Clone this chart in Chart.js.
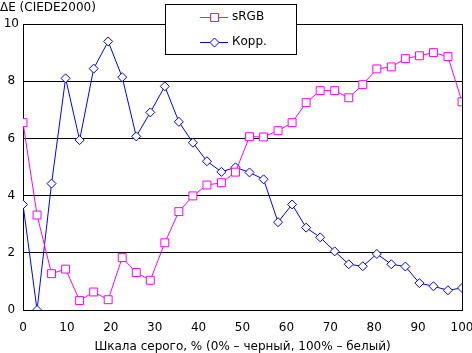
<!DOCTYPE html>
<html>
<head>
<meta charset="utf-8">
<script src="https://cdn.jsdelivr.net/npm/chart.js@4.4.0/dist/chart.umd.min.js"></script>
<style>
  html, body { margin: 0; padding: 0; background: #fff; }
  #wrap { width: 472px; height: 353px; }
</style>
</head>
<body>
<div id="wrap"><canvas id="chart" width="472" height="353"></canvas></div>
<script>
// grey level, % (0% = black, 100% = white)
const greyLevels = [0, 3.2, 6.5, 9.7, 12.9, 16.1, 19.4, 22.6, 25.8, 29, 32.3, 35.5, 38.7, 41.9, 45.2, 48.4,
    51.6, 54.8, 58.1, 61.3, 64.5, 67.7, 71, 74.2, 77.4, 80.6, 83.9, 87.1, 90.3, 93.5, 96.8, 100];

const srgbDeltaE = [6.55, 3.32, 1.27, 1.43, 0.33, 0.63, 0.36, 1.83, 1.31, 1.04, 2.35, 3.44, 3.99, 4.37, 4.45, 4.82,
    6.06, 6.05, 6.27, 6.55, 7.25, 7.67, 7.67, 7.42, 7.88, 8.43, 8.5, 8.79, 8.89, 9.0, 8.86, 7.28];

const corrDeltaE = [3.69, 0.0, 4.42, 8.1, 5.94, 8.44, 9.39, 8.14, 6.07, 6.91, 7.82, 6.58, 5.85, 5.2, 4.83, 4.99,
    4.81, 4.57, 3.07, 3.69, 2.88, 2.54, 2.05, 1.6, 1.53, 1.96, 1.6, 1.52, 0.94, 0.83, 0.69, 0.77];

const seriesNames = ['sRGB', 'Корр.'];
const yAxisTitle = 'ΔE (CIEDE2000)';
const xAxisTitle = 'Шкала серого, % (0% – черный, 100% – белый)';

const FONT = "'DejaVu Sans', Verdana, sans-serif";

const toPoints = vals => vals.map((v, i) => ({ x: greyLevels[i], y: v }));

// draws the frame, the y title and the boxed legend
const extras = {
    id: 'extras',
    afterDraw(chart) {
        const { ctx, chartArea } = chart;
        ctx.save();
        // right border of plot
        ctx.strokeStyle = '#000';
        ctx.lineWidth = 1;
        ctx.beginPath();
        ctx.moveTo(Math.round(chartArea.right) + 0.5, chartArea.top);
        ctx.lineTo(Math.round(chartArea.right) + 0.5, chartArea.bottom);
        ctx.stroke();

        // y title
        ctx.fillStyle = '#000';
        ctx.font = '12px ' + FONT;
        ctx.textAlign = 'left';
        ctx.textBaseline = 'middle';
        ctx.fillText(yAxisTitle, 0, 8);

        // legend box
        const lx = 165.5, ly = 4.5, lw = 131, lh = 50;
        ctx.fillStyle = '#fff';
        ctx.fillRect(lx, ly, lw, lh);
        ctx.strokeRect(lx, ly, lw, lh);

        const rows = [16.5, 42];
        chart.data.datasets.forEach((ds, i) => {
            const y = Math.round(rows[i]) + 0.5;
            ctx.strokeStyle = ds.borderColor;
            ctx.lineWidth = 1;
            ctx.beginPath();
            ctx.moveTo(200, y);
            ctx.lineTo(228, y);
            ctx.stroke();
            ctx.fillStyle = '#fff';
            ctx.beginPath();
            if (ds.pointStyle === 'rect') {
                ctx.rect(210.5, y - 4, 8, 8);
            } else {
                ctx.moveTo(214.5, y - 4.5);
                ctx.lineTo(219, y);
                ctx.lineTo(214.5, y + 4.5);
                ctx.lineTo(210, y);
                ctx.closePath();
            }
            ctx.fill();
            ctx.stroke();
            ctx.fillStyle = '#000';
            ctx.font = '12px ' + FONT;
            ctx.textAlign = 'left';
            ctx.textBaseline = 'middle';
            ctx.fillText(ds.label, 232, rows[i]);
        });
        ctx.restore();
    }
};

new Chart(document.getElementById('chart'), {
    type: 'line',
    data: {
        datasets: [{
            label: seriesNames[0],
            data: toPoints(srgbDeltaE),
            borderColor: '#ff00ff',
            backgroundColor: '#ffffff',
            borderWidth: 1,
            pointStyle: 'rect',
            pointRadius: 5.6,
            pointBorderWidth: 1,
            tension: 0
        }, {
            label: seriesNames[1],
            data: toPoints(corrDeltaE),
            borderColor: '#0000ff',
            backgroundColor: '#ffffff',
            borderWidth: 1,
            pointStyle: 'rectRot',
            pointRadius: 4.5,
            pointBorderWidth: 1,
            tension: 0
        }]
    },
    options: {
        responsive: false,
        animation: false,
        layout: { padding: { top: 24, right: 10, left: 0, bottom: 0 } },
        plugins: {
            legend: { display: false },
            tooltip: { enabled: false }
        },
        scales: {
            x: {
                type: 'linear',
                min: 0,
                max: 100,
                afterFit: s => { s.height = 43; s.paddingLeft = 0; s.paddingRight = 0; },
                grid: { display: false, drawTicks: false },
                border: { color: '#000', width: 1 },
                ticks: {
                    stepSize: 10,
                    color: '#000',
                    padding: 11,
                    maxRotation: 0,
                    font: { family: FONT, size: 12 }
                },
                title: {
                    display: true,
                    text: xAxisTitle,
                    color: '#000',
                    padding: { top: 0, bottom: -1 },
                    font: { family: FONT, size: 12 }
                }
            },
            y: {
                min: 0,
                max: 10,
                afterFit: s => { s.width = 23; s.paddingTop = 0; s.paddingBottom = 0; },
                grid: { color: '#000', lineWidth: 1, drawTicks: false },
                border: { color: '#000', width: 1 },
                ticks: {
                    stepSize: 2,
                    color: '#000',
                    padding: 4,
                    crossAlign: 'center',
                    font: { family: FONT, size: 12 }
                }
            }
        }
    },
    plugins: [extras]
});
</script>
</body>
</html>
